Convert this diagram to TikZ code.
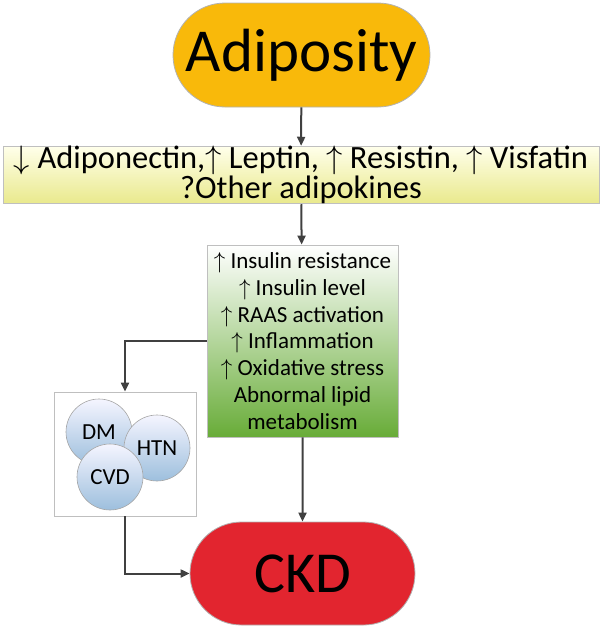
\documentclass[tikz,border=0pt]{standalone}
\usepackage{fix-cm}
\usepackage{fontspec}
\setmainfont{Carlito}
\usetikzlibrary{arrows.meta,shapes.misc}
\definecolor{adipo}{HTML}{F9B90A}
\definecolor{kidney}{HTML}{E2252F}
\definecolor{yellowlow}{HTML}{E9E98C}
\definecolor{greenlow}{HTML}{68AC38}
\definecolor{bluelow}{HTML}{9DBFDD}
\definecolor{linegray}{HTML}{404040}
\begin{document}
\begin{tikzpicture}[x=1pt,y=-1pt]
	\tikzstyle{term} = [rounded rectangle,draw=gray!60,line width=0.8pt,inner sep=0pt]
	\tikzstyle{panel} = [rectangle,draw=gray!50,line width=0.8pt,align=center,inner sep=0pt]
	\tikzstyle{disease} = [circle,draw=gray!70,line width=0.6pt,minimum size=66pt,inner sep=0pt,top color=blue!4,bottom color=bluelow,font=\fontsize{23}{26}\selectfont]
	\tikzstyle{flow} = [-{Triangle[length=9pt,width=8pt]},line width=2pt,linegray]
	
		\useasboundingbox (0,0) rectangle (606,629);
		
		\node[term,fill=adipo,minimum width=257pt,minimum height=104pt,font=\fontsize{61}{70}\selectfont] (adip) at (301.5,55){Adiposity};
		\node[panel,minimum width=596pt,minimum height=50pt,top color=yellow!8,bottom color=yellowlow,font=\fontsize{32.5}{26.5}\selectfont] (adipok) at (301,175){$\downarrow$ Adiponectin,$\uparrow$ Leptin, $\uparrow$ Resistin, $\uparrow$ Visfatin\\?Other adipokines};
		\node[panel,minimum width=191pt,minimum height=192pt,top color=white,bottom color=greenlow,font=\fontsize{23}{26.7}\selectfont] (mech) at (302.5,341){$\uparrow$ Insulin resistance\\$\uparrow$ Insulin level\\$\uparrow$ RAAS activation\\$\uparrow$ Inflammation\\$\uparrow$ Oxidative stress\\Abnormal lipid\\metabolism};
		\node[panel,fill=white,minimum width=142pt,minimum height=124pt] (comorb) at (125,454){};
		\node[disease] (dm) at (99,432){DM};
		\node[disease] (htn) at (157,448){HTN};
		\node[disease] (cvd) at (110,477){CVD};
		\node[term,fill=kidney,minimum width=225pt,minimum height=103pt,font=\fontsize{58}{66}\selectfont] (ckd) at (302.5,573.5){CKD};
		
		\draw[flow] (adip) -- (adipok);
		\draw[flow] (adipok) -- (mech);
		\draw[flow] (mech) -- (ckd);
		\draw[flow] (mech.west) -| (comorb.north);
		\draw[flow] (comorb.south) |- (ckd.west);
		
\end{tikzpicture}
\end{document}
